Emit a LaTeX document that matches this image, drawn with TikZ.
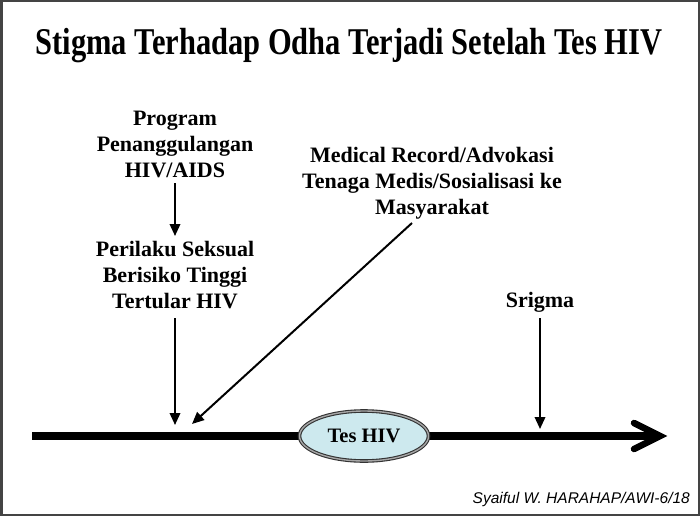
\documentclass[tikz,border=0pt]{standalone}
\usepackage{fontspec}
\setmainfont{Liberation Serif}
\newfontfamily\sigfont{Liberation Sans}
\usetikzlibrary{arrows.meta,shapes.geometric}
\definecolor{ovalfill}{HTML}{CDE9EE}
\definecolor{framecol}{HTML}{444444}
\tikzset{
  lbl/.style={align=center, inner sep=0pt, font=\fontsize{22}{26}\selectfont\bfseries},
  thinarrow/.style={line width=2pt, -{Triangle[length=12pt,width=10.5pt]}},
}
\begin{document}
\begin{tikzpicture}[x=1pt,y=-1pt]
\useasboundingbox (0,0) rectangle (700,516);
\draw[framecol, line width=2.5pt] (1.25,1.25) rectangle (698.75,514.75);
% title
\node[inner sep=0pt] (title) at (349,46) {\resizebox{627pt}{1.05\height}{\fontsize{36}{40}\selectfont\bfseries Stigma Terhadap Odha Terjadi Setelah Tes HIV}};
% labels
\node[lbl, anchor=north] (prog) at (175,111) {Program\\Penanggulangan\\HIV/AIDS};
\node[lbl, anchor=north] (peri) at (175,241) {Perilaku Seksual\\Berisiko Tinggi\\Tertular HIV};
\node[lbl, anchor=north] (med) at (432,147) {Medical Record/Advokasi\\Tenaga Medis/Sosialisasi ke\\Masyarakat};
\node[lbl, anchor=north] (srig) at (540,292) {Srigma};
% timeline
\coordinate (tl0) at (32,436);
\coordinate (tl1) at (656,436);
\draw[line width=7.5pt] (tl0) -- (tl1);
\draw[line width=6.5pt, line cap=round, line join=miter] (634,423) -- (660,436) -- (634,449);
% oval
\node[ellipse, draw=black!80, double=black!35, double distance=1.4pt, line width=1.1pt, fill=ovalfill,
      minimum width=129pt, minimum height=50pt, inner sep=0pt,
      font=\fontsize{20.5}{24}\selectfont\bfseries] (tes) at (364,436) {Tes HIV};
% arrow anchors
\coordinate (a1s) at (175,183);
\coordinate (a1e) at (175,236);
\coordinate (a2s) at (175,318);
\coordinate (a2e) at (175,425);
\coordinate (a3s) at (412,223);
\coordinate (a3e) at (192,424);
\coordinate (a4s) at (540,318);
\coordinate (a4e) at (540,429);
\draw[thinarrow] (a1s) -- (a1e);
\draw[thinarrow] (a2s) -- (a2e);
\draw[thinarrow] (a3s) -- (a3e);
\draw[thinarrow] (a4s) -- (a4e);
% signature
\node[inner sep=0pt, anchor=base east, font=\sigfont\itshape\fontsize{15.5}{18}\selectfont] (sig) at (690,503) {Syaiful W. HARAHAP/AWI-6/18};
\end{tikzpicture}
\end{document}
